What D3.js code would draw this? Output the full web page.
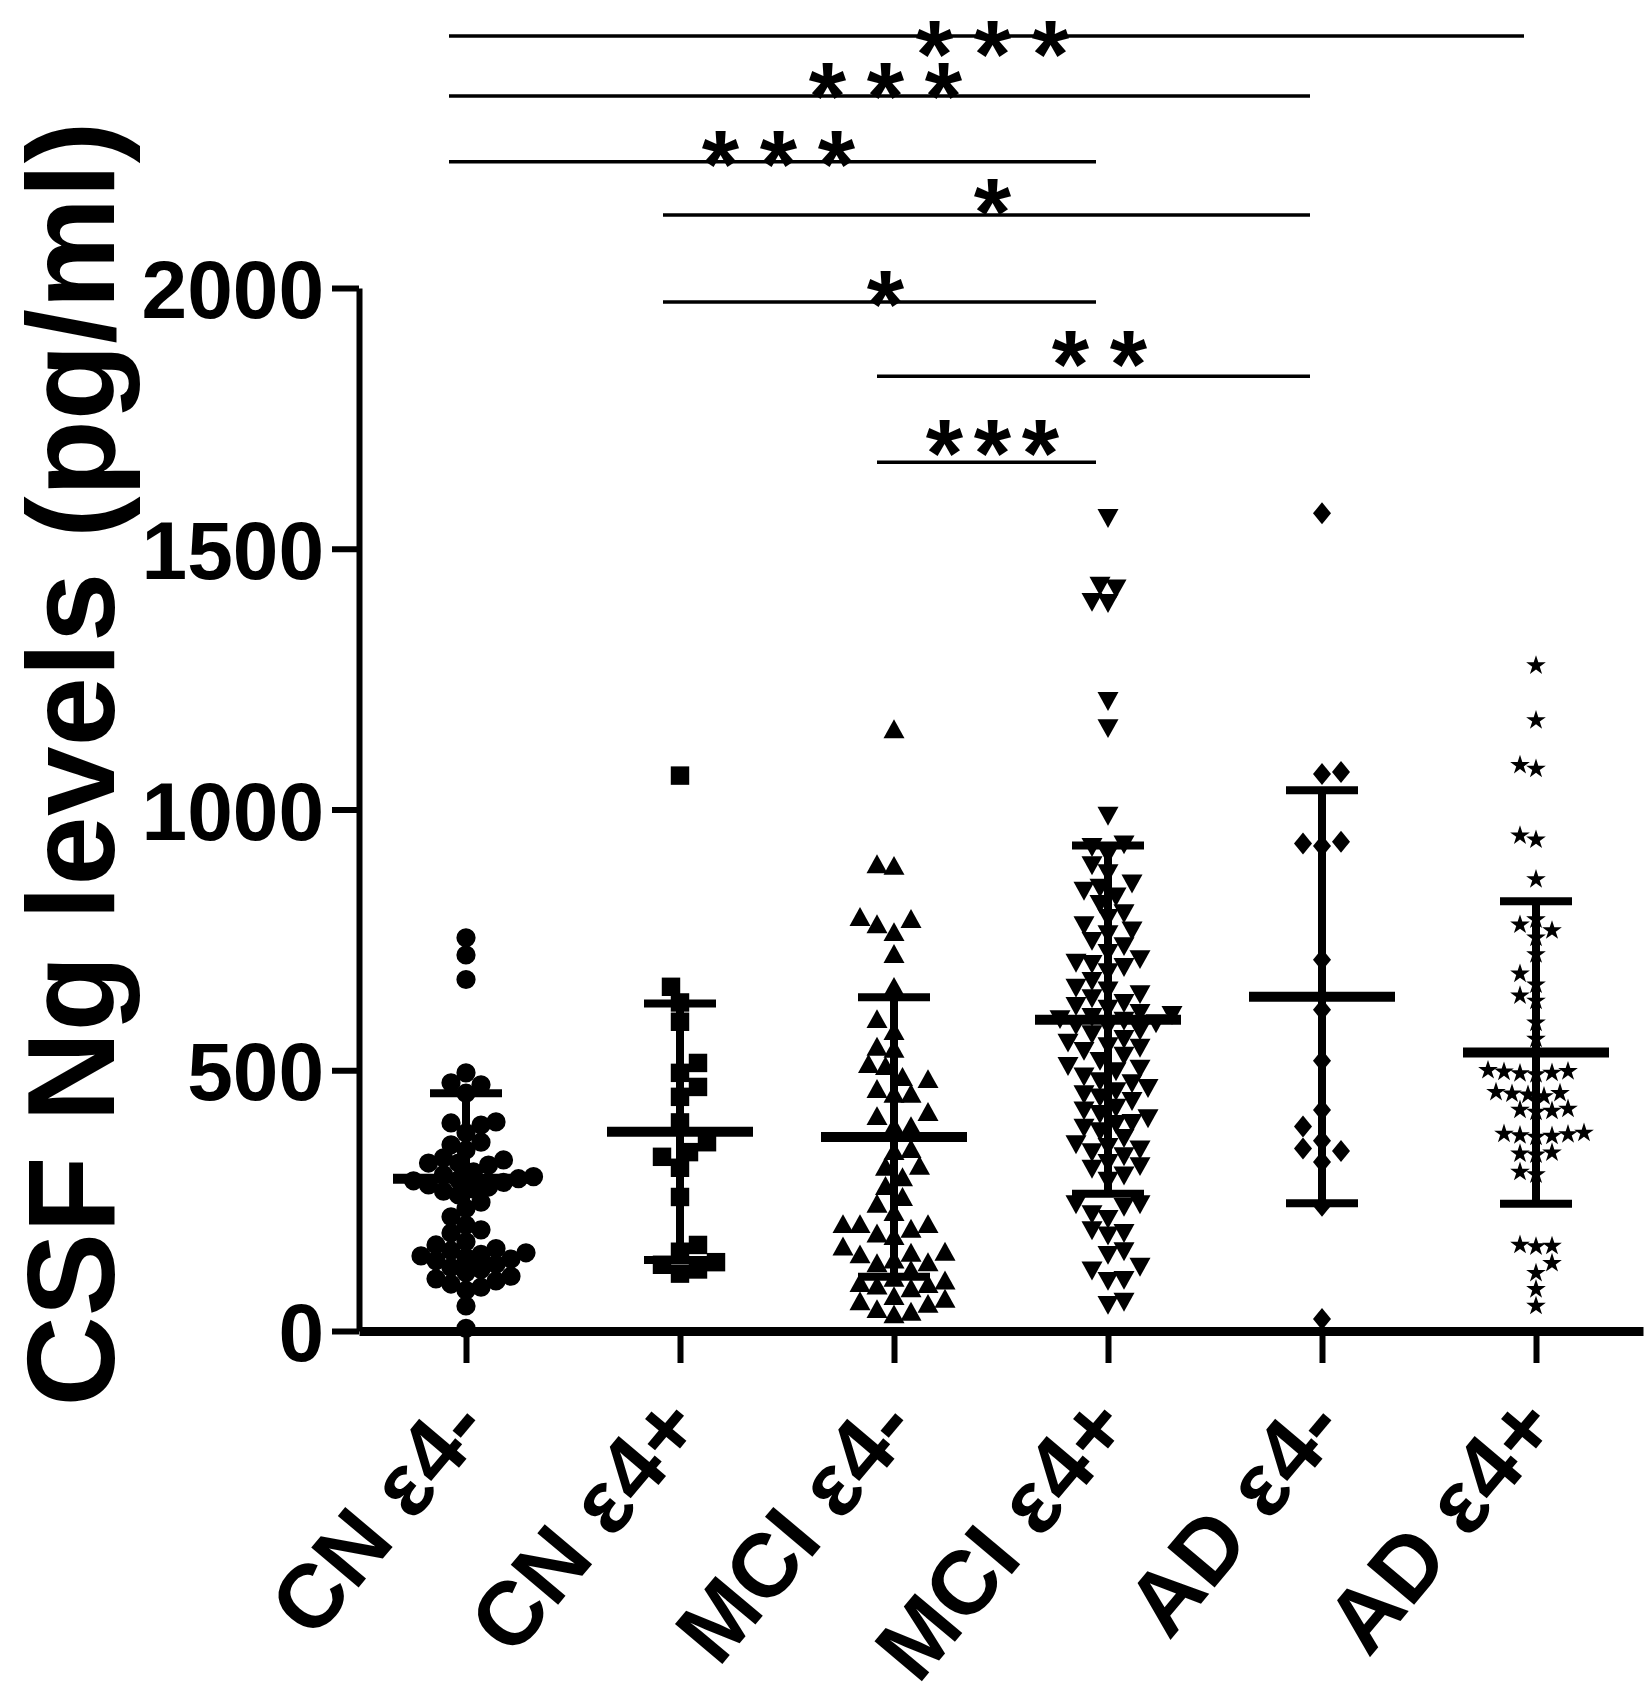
<!DOCTYPE html>
<html>
<head>
<meta charset="utf-8">
<script src="https://cdn.jsdelivr.net/npm/d3@7"></script>
<style>
  html, body { margin: 0; padding: 0; background: #fff; }
  svg { display: block; }
  text { font-family: "Liberation Sans", Arial, sans-serif; font-weight: bold; fill: #000; }
</style>
</head>
<body>
<svg id="chart" width="1650" height="1706"></svg>
<script>
// ---------------- data ----------------
const categories = ["CN ε4-", "CN ε4+", "MCI ε4-", "MCI ε4+", "AD ε4-", "AD ε4+"];

const cnNeg = [754, 721, 674, 495, 476, 472, 456, 401, 399, 395, 380, 362, 357, 347, 332, 328, 322, 322, 318,
  305, 300, 296, 292, 290, 288, 285, 280, 276, 272, 268, 261, 247, 235, 219, 203, 194, 188, 171, 165, 158,
  154, 150, 147, 144, 141, 138, 135, 128, 122, 118, 112, 105, 100, 96, 90, 84, 78, 48, 5];

const cnPos = [1065, 660, 630, 593, 514, 495, 468, 449, 400, 362, 343, 334, 313, 257, 165, 152, 132, 127, 118, 110];

const mciNeg = [1152, 893, 890, 792, 788, 778, 763, 721, 658, 596, 573, 543, 539, 510, 506, 485, 481, 462, 453,
  453, 418, 410, 391, 391, 347, 343, 315, 313, 293, 276, 255, 242, 226, 203, 203, 203, 194, 185, 180, 160,
  150, 148, 145, 135, 130, 128, 115, 100, 95, 90, 88, 85, 80, 65, 60, 55, 50, 40, 35, 30];

const mciPos = [1561, 1431, 1426, 1400, 1398, 1210, 1158, 990, 935, 930,
  915, 895, 880, 860, 852, 846, 835, 821, 803, 794,
  780, 770, 763, 750, 740, 727, 715, 708, 706, 700,
  690, 673, 660, 655, 648, 640, 631, 625, 620, 612,
  608, 604, 600, 597, 592, 588, 585, 578, 571, 562,
  555, 548, 545, 539, 530, 520, 510, 505, 500, 490,
  481, 477, 468, 462, 456, 450, 443, 430, 425, 418,
  410, 401, 399, 392, 385, 372, 360, 355, 350, 345,
  337, 324, 318, 313, 300, 290, 245, 245, 240, 226,
  217, 195, 190, 185, 155, 148, 125, 118, 100, 98, 58, 52];

const adNeg = [1568, 1072, 1068, 938, 930, 935, 712, 616, 518, 424, 392, 365, 350, 345, 324, 240, 23];

const adPos = [1276, 1171, 1085, 1078, 950, 942, 866, 789, 779, 768, 754, 722, 685, 664, 643, 633, 591, 560,
  500, 498, 497, 495, 494, 492, 458, 456, 455, 453, 450, 426, 424, 422, 420, 380, 378, 377, 375, 374, 372,
  342, 340, 338, 305, 300, 165, 163, 162, 130, 111, 80, 48];

const groupValues = [cnNeg, cnPos, mciNeg, mciPos, adNeg, adPos];
const means = [292, 382, 372, 597, 641, 534];
const sds = [164, 246, 268, 334, 396, 290];

const yTicks = [0, 500, 1000, 1500, 2000];
const yTitle = "CSF Ng levels (pg/ml)";

// significance brackets: group indices, label, bracket height (pg/ml units)
const bracketFrom = [0, 0, 0, 1, 1, 2, 2];
const bracketTo = [5, 4, 3, 4, 3, 4, 3];
const bracketLabels = ["***", "***", "***", "*", "*", "**", "***"];
const bracketLevels = [2483, 2368, 2242, 2140, 1973, 1831, 1666];

// ---------------- drawing ----------------
const svg = d3.select("#chart");
svg.append("rect").attr("width", 1650).attr("height", 1706).attr("fill", "#fff");

const y = d3.scaleLinear().domain([0, 2000]).range([1331, 288]);
const x = d3.scalePoint().domain(categories).range([359, 1643]).padding(0.5);

// custom symbols
const triUp = { draw(ctx, s) { const w = s, h = s * 0.9; ctx.moveTo(0, -h * 0.58); ctx.lineTo(w / 2, h * 0.42); ctx.lineTo(-w / 2, h * 0.42); ctx.closePath(); } };
const triDown = { draw(ctx, s) { const w = s, h = s * 0.9; ctx.moveTo(0, h * 0.58); ctx.lineTo(w / 2, -h * 0.42); ctx.lineTo(-w / 2, -h * 0.42); ctx.closePath(); } };
const diamond = { draw(ctx, s) { const w = s * 0.82, h = s; ctx.moveTo(0, -h / 2); ctx.lineTo(w / 2, 0); ctx.lineTo(0, h / 2); ctx.lineTo(-w / 2, 0); ctx.closePath(); } };

const symbolTypes = [d3.symbolCircle, d3.symbolSquare, triUp, triDown, diamond, d3.symbolStar];
const symbolSizes = [290, 340, 21, 21, 22, 120];
const collide = [15, 18, 17, 16, 19, 16];

function swarm(vals, D) {
  const pts = vals.map(v => ({ v, py: y(v) })).sort((a, b) => a.v - b.v);
  const placed = [];
  const step = D * 0.5;
  pts.forEach((p, i) => {
    for (let k = 0; k < 80; k++) {
      const cands = k === 0 ? [0] : (i % 2 ? [k * step, -k * step] : [-k * step, k * step]);
      let found = null;
      for (const dx of cands) {
        if (placed.every(q => (q.dx - dx) ** 2 + (q.py - p.py) ** 2 >= D * D)) { found = dx; break; }
      }
      if (found !== null) { p.dx = found; break; }
    }
    if (p.dx === undefined) p.dx = 0;
    placed.push(p);
  });
  return pts;
}

// points
const gPts = svg.append("g");
categories.forEach((c, gi) => {
  const pts = swarm(groupValues[gi], collide[gi]);
  const sym = d3.symbol().type(symbolTypes[gi]).size(symbolSizes[gi]);
  gPts.selectAll(null).data(pts).enter().append("path")
    .attr("d", sym)
    .attr("transform", d => `translate(${x(c) + d.dx},${d.py})`)
    .attr("fill", "#000");
});

// mean and SD bars
const gBars = svg.append("g").attr("stroke", "#000");
categories.forEach((c, gi) => {
  const cx = x(c), m = means[gi], s = sds[gi];
  gBars.append("line").attr("x1", cx).attr("x2", cx).attr("y1", y(m - s)).attr("y2", y(m + s)).attr("stroke-width", 8);
  [m - s, m + s].forEach(v => gBars.append("line").attr("x1", cx - 36).attr("x2", cx + 36).attr("y1", y(v)).attr("y2", y(v)).attr("stroke-width", 8));
  gBars.append("line").attr("x1", cx - 73).attr("x2", cx + 73).attr("y1", y(m)).attr("y2", y(m)).attr("stroke-width", 10);
});

// y axis
const yAxis = svg.append("g").attr("transform", "translate(359,0)")
  .call(d3.axisLeft(y).tickValues(yTicks).tickSize(27).tickSizeOuter(0).tickPadding(8).tickFormat(d3.format("d")));
yAxis.select(".domain").attr("stroke", "#000").attr("stroke-width", 6);
yAxis.selectAll(".tick line").attr("stroke", "#000").attr("stroke-width", 6);
yAxis.selectAll(".tick text").attr("font-size", 82).attr("font-family", null).attr("dy", "0.36em");

// x axis
const xAxis = svg.append("g").attr("transform", "translate(0,1331)")
  .call(d3.axisBottom(x).tickSize(32).tickSizeOuter(0));
xAxis.select(".domain").attr("stroke", "#000").attr("stroke-width", 9);
xAxis.selectAll(".tick line").attr("stroke", "#000").attr("stroke-width", 6);
xAxis.selectAll(".tick text")
  .attr("font-size", 90).attr("font-family", null)
  .attr("y", 0).attr("dy", null)
  .attr("text-anchor", "end")
  .attr("transform", "translate(25,98) rotate(-50)");

// y title
svg.append("text")
  .attr("transform", "translate(114,764) rotate(-90)")
  .attr("text-anchor", "middle")
  .attr("font-size", 125)
  .text(yTitle);

// significance brackets
const starSize = 96;
const labelLift = [3, 21, 19, 24, 19, 33, 30];
const gSig = svg.append("g");
bracketLabels.forEach((lab, i) => {
  const x1 = x(categories[bracketFrom[i]]) - 17;
  const x2 = x(categories[bracketTo[i]]) - 12;
  const ly = y(bracketLevels[i]);
  gSig.append("line").attr("x1", x1).attr("x2", x2).attr("y1", ly).attr("y2", ly)
    .attr("stroke", "#000").attr("stroke-width", 3.5);
  const mid = (x1 + x2) / 2 + 6;
  const n = lab.length, sp = i === 6 ? 48 : 58;
  for (let k = 0; k < n; k++) {
    gSig.append("text")
      .attr("x", mid + (k - (n - 1) / 2) * sp)
      .attr("y", ly - labelLift[i] + starSize * 0.56)
      .attr("text-anchor", "middle")
      .attr("font-size", starSize)
      .text("*");
  }
});
</script>
</body>
</html>
